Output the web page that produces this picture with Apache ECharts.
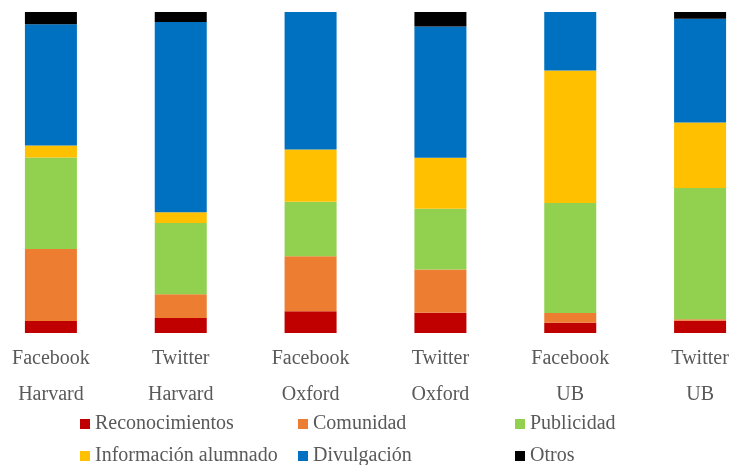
<!DOCTYPE html>
<html>
<head>
<meta charset="utf-8">
<script src="https://cdn.jsdelivr.net/npm/echarts@6/dist/echarts.min.js"></script>
<style>html,body{margin:0;padding:0;background:#fff;overflow:hidden;width:729px;height:465px;}#c{position:absolute;left:-14px;top:0;width:779px;height:465px;}</style>
</head>
<body>
<div id="c"></div>
<script>
const categories = ["Facebook\nHarvard","Twitter\nHarvard","Facebook\nOxford","Twitter\nOxford","Facebook\nUB","Twitter\nUB"];
const seriesNames = ["Reconocimientos","Comunidad","Publicidad","Información alumnado","Divulgación","Otros"];
const reconocimientos = [3.7, 4.7, 6.8, 6.3, 3.2, 3.8];
const comunidad = [22.5, 7.4, 17.1, 13.5, 3.0, 0.5];
const publicidad = [28.5, 22.2, 17.0, 18.9, 34.3, 40.9];
const informacionAlumnado = [3.7, 3.3, 16.3, 15.9, 41.3, 20.4];
const divulgacion = [37.8, 59.3, 42.8, 40.9, 18.2, 32.3];
const otros = [3.8, 3.1, 0, 4.5, 0, 2.1];
const colors = ["#C00000","#ED7D31","#92D050","#FFC000","#0070C0","#000000"];
const values = [reconocimientos, comunidad, publicidad, informacionAlumnado, divulgacion, otros];

const chart = echarts.init(document.getElementById('c'), null, {renderer:'canvas'});
const off = 14;
const legendPos = [
  {left: 80, top: 414}, {left: 298, top: 414}, {left: 515, top: 414},
  {left: 80, top: 446}, {left: 298, top: 446}, {left: 515, top: 446}
];
const font = "'Liberation Serif', 'Times New Roman', serif";
chart.setOption({
  animation: false,
  color: colors,
  grid: {left: 0, right: 0, top: 12, bottom: 132, containLabel: false, outerBoundsMode: 'none'},
  xAxis: {
    type: 'category',
    data: categories,
    axisLine: {show: false},
    axisTick: {show: false},
    axisLabel: {
      interval: 0, margin: 8, color: '#595959', fontFamily: font, fontSize: 20, lineHeight: 36
    }
  },
  yAxis: {
    type: 'value', min: 0, max: 100, show: false, splitLine: {show: false}
  },
  legend: seriesNames.map((n, i) => ({
    data: [n], left: legendPos[i].left + off, top: legendPos[i].top, padding: 0,
    itemWidth: 10, itemHeight: 10, icon: 'rect',
    textStyle: {color: '#595959', fontFamily: font, fontSize: 20}
  })),
  series: seriesNames.map((n, i) => ({
    name: n, type: 'bar', stack: 'total', barWidth: 52,
    data: values[i], itemStyle: {color: colors[i]}
  }))
});
</script>
</body>
</html>
